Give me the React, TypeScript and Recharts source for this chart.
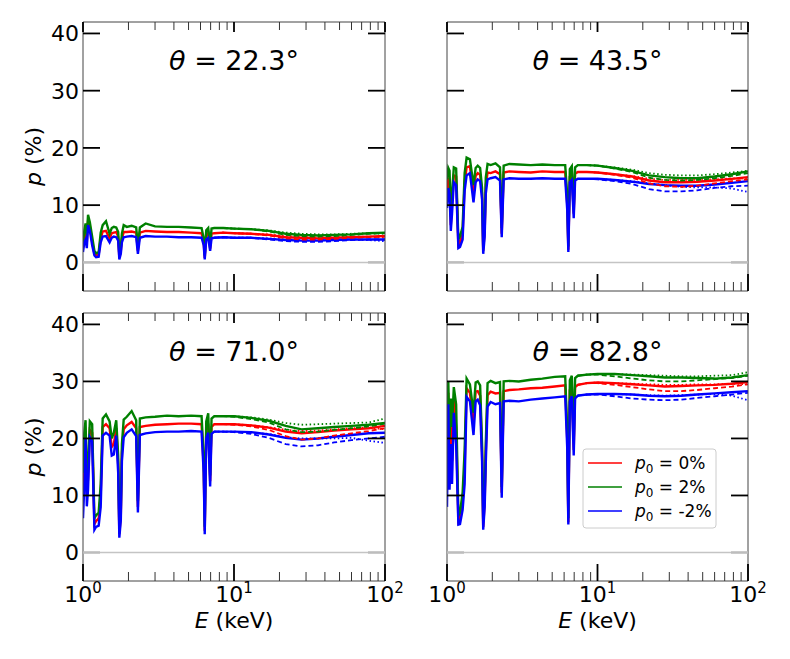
import React from 'react';
import { LineChart, Line, XAxis, YAxis, ReferenceLine } from 'recharts';

// energy grid (keV) for the full curves
const ENERGY = [
  1.0, 1.02, 1.04, 1.06, 1.08, 1.11, 1.15, 1.19, 1.22, 1.27, 1.31, 1.35, 1.42, 1.5, 1.55, 1.6, 1.66,
  1.71, 1.74, 1.78, 1.81, 1.86, 1.95, 2.1, 2.25, 2.31, 2.38, 2.6, 3.0, 3.6, 4.3, 5.2, 6.1, 6.3, 6.4,
  6.55, 6.75, 6.95, 7.1, 7.4, 8.5, 10, 13, 17, 22, 28, 36, 46, 60, 78, 100,
];
// coarser grid where the dotted / dashed variants split off
const HI_ENERGY = [7.4, 8.5, 10, 13, 17, 22, 28, 36, 46, 60, 78, 100];

const X_TICKS = [1, 2, 3, 4, 5, 6, 7, 8, 9, 10, 20, 30, 40, 50, 60, 70, 80, 90, 100];
const DECADES = [1, 10, 100];
const Y_TICKS = [0, 10, 20, 30, 40];

const TITLES = ['θ = 22.3°', 'θ = 43.5°', 'θ = 71.0°', 'θ = 82.8°'];
const LEGEND_LABELS = ['0%', '2%', '-2%'];

// theta = 22.3
const A_RED = [2.5, 4.5, 5.5, 3.5, 7.3, 6.3, 3.6, 1.5, 1.2, 1.4, 4.2, 5.4, 5.5, 4.2, 5.1, 5.2, 5.3, 4.5, 0.8, 2.0, 4.2, 5.3, 5.3, 5.4, 5.2, 2.0, 5.2, 5.5, 5.4, 5.3, 5.3, 5.2, 5.1, 3.5, 0.8, 4.8, 5.1, 2.4, 5.0, 5.1, 5.2, 5.1, 5.0, 4.8, 4.4, 4.3, 4.2, 4.3, 4.4, 4.5, 4.6];
const A_GREEN = [3.5, 5.5, 6.8, 4.5, 8.3, 7.0, 4.5, 2.0, 1.6, 1.8, 5.2, 6.5, 7.2, 5.0, 6.0, 6.2, 6.1, 5.3, 1.2, 2.6, 5.0, 6.5, 6.2, 6.4, 6.1, 2.6, 6.1, 6.8, 6.3, 6.2, 6.2, 6.1, 6.0, 4.2, 1.2, 5.6, 6.0, 3.0, 5.9, 6.0, 6.0, 5.9, 5.8, 5.5, 5.0, 4.8, 4.7, 4.8, 4.9, 5.1, 5.2];
const A_BLUE = [1.8, 3.5, 4.0, 2.5, 6.5, 5.5, 3.0, 1.2, 0.9, 1.0, 3.5, 4.5, 4.6, 3.5, 4.3, 4.5, 4.4, 3.8, 0.5, 1.5, 3.5, 4.4, 4.5, 4.6, 4.4, 1.5, 4.3, 4.6, 4.5, 4.5, 4.4, 4.4, 4.3, 3.0, 0.5, 4.0, 4.3, 2.0, 4.2, 4.3, 4.4, 4.3, 4.3, 4.1, 3.9, 3.8, 3.8, 3.9, 4.0, 4.0, 4.0];
const A_RED_DOT = [5.1, 5.2, 5.1, 5.0, 4.9, 4.6, 4.5, 4.4, 4.4, 4.5, 4.5, 4.4];
const A_RED_DASH = [5.1, 5.2, 5.1, 5.0, 4.7, 4.2, 4.0, 4.0, 4.1, 4.3, 4.4, 4.5];
const A_GREEN_DOT = [6.0, 6.0, 5.9, 5.8, 5.6, 5.2, 5.0, 4.9, 4.9, 5.0, 5.1, 5.0];
const A_GREEN_DASH = [6.0, 6.0, 5.9, 5.8, 5.4, 4.8, 4.6, 4.5, 4.6, 4.8, 5.0, 5.1];
const A_BLUE_DOT = [4.3, 4.4, 4.3, 4.3, 4.2, 4.0, 3.9, 3.9, 3.9, 4.0, 3.9, 3.7];
const A_BLUE_DASH = [4.3, 4.4, 4.3, 4.3, 4.0, 3.7, 3.6, 3.6, 3.7, 3.9, 4.0, 4.0];

// theta = 43.5
const B_RED = [12.0, 14.8, 14.0, 6.5, 10.0, 15.2, 15.0, 3.0, 3.4, 5.0, 14.0, 16.6, 16.8, 12.0, 15.1, 15.6, 15.3, 12.0, 2.0, 5.5, 13.5, 15.7, 15.6, 15.9, 15.4, 5.0, 15.7, 15.9, 15.8, 15.7, 15.9, 15.8, 15.8, 10.0, 2.2, 15.0, 15.6, 8.5, 15.5, 15.8, 15.8, 15.7, 15.4, 15.0, 14.3, 14.0, 14.0, 14.1, 14.3, 14.6, 14.9];
const B_GREEN = [14.5, 16.5, 16.0, 8.0, 12.0, 16.6, 16.4, 4.0, 4.5, 6.2, 15.6, 18.3, 18.0, 13.5, 16.5, 16.9, 16.5, 13.0, 2.6, 6.5, 14.8, 17.2, 17.0, 17.3, 16.6, 6.0, 16.9, 17.2, 17.1, 17.0, 17.1, 17.0, 17.0, 11.5, 2.8, 16.3, 16.8, 9.5, 16.6, 17.0, 17.0, 16.9, 16.5, 16.0, 15.2, 14.9, 14.7, 14.7, 15.0, 15.4, 15.9];
const B_BLUE = [9.5, 13.0, 12.0, 5.5, 8.5, 14.0, 13.5, 2.5, 2.7, 4.0, 12.5, 15.2, 15.6, 10.5, 14.0, 14.5, 14.2, 11.0, 1.5, 4.5, 12.0, 14.5, 14.7, 14.9, 14.3, 4.4, 14.5, 14.7, 14.6, 14.6, 14.7, 14.6, 14.6, 9.0, 1.8, 14.0, 14.4, 7.7, 14.3, 14.6, 14.6, 14.6, 14.4, 14.1, 13.7, 13.5, 13.4, 13.4, 13.6, 13.9, 14.2];
const B_RED_DOT = [15.8, 15.8, 15.7, 15.4, 15.1, 14.6, 14.4, 14.4, 14.4, 14.5, 14.7, 14.6];
const B_RED_DASH = [15.8, 15.8, 15.7, 15.3, 14.8, 13.8, 13.3, 13.2, 13.4, 13.8, 14.2, 14.5];
const B_GREEN_DOT = [17.0, 17.0, 16.9, 16.6, 16.2, 15.6, 15.3, 15.2, 15.2, 15.4, 15.7, 16.0];
const B_GREEN_DASH = [17.0, 17.0, 16.9, 16.4, 15.8, 14.8, 14.4, 14.3, 14.4, 14.7, 15.1, 15.6];
const B_BLUE_DOT = [14.6, 14.6, 14.6, 14.4, 14.2, 13.8, 13.5, 13.2, 13.1, 13.1, 12.9, 12.3];
const B_BLUE_DASH = [14.6, 14.6, 14.5, 14.2, 13.7, 12.8, 12.4, 12.4, 12.6, 13.0, 13.3, 13.4];

// theta = 71.0
const C_RED = [10.0, 17.0, 21.3, 10.0, 13.0, 21.5, 21.0, 5.0, 5.5, 6.0, 10.0, 22.0, 22.5, 21.8, 18.5, 19.0, 21.8, 15.5, 3.2, 6.5, 17.5, 21.6, 22.3, 22.9, 21.8, 8.0, 22.0, 22.2, 22.4, 22.5, 22.6, 22.6, 22.5, 15.0, 3.8, 21.5, 22.6, 12.5, 22.0, 22.5, 22.5, 22.5, 22.3, 21.9, 21.2, 20.9, 21.1, 21.4, 21.6, 21.8, 22.2];
const C_GREEN = [14.0, 21.0, 23.2, 12.0, 15.0, 23.0, 22.5, 6.0, 6.5, 7.0, 12.0, 23.5, 24.2, 23.0, 20.0, 21.0, 23.2, 17.0, 4.0, 7.5, 19.0, 23.3, 23.8, 24.8, 23.2, 9.0, 23.5, 23.7, 23.8, 24.0, 23.9, 24.0, 23.9, 16.5, 4.5, 23.0, 24.4, 13.5, 23.5, 23.9, 23.9, 23.9, 23.6, 23.1, 22.2, 21.6, 21.8, 22.0, 22.2, 22.4, 22.7];
const C_BLUE = [6.0, 11.6, 20.0, 8.1, 11.0, 20.2, 19.5, 4.0, 4.5, 4.7, 8.0, 20.5, 21.0, 20.5, 17.0, 17.2, 20.5, 14.0, 2.6, 5.6, 16.0, 20.2, 21.0, 21.6, 20.4, 7.0, 20.6, 20.9, 21.1, 21.2, 21.2, 21.3, 21.2, 14.0, 3.2, 20.0, 21.0, 11.6, 20.8, 21.2, 21.2, 21.2, 21.1, 20.7, 20.1, 19.8, 20.0, 20.3, 20.6, 20.9, 21.0];
const C_RED_DOT = [22.5, 22.5, 22.5, 22.3, 22.0, 21.5, 21.3, 21.4, 21.6, 21.8, 21.9, 21.6];
const C_RED_DASH = [22.5, 22.5, 22.4, 22.1, 21.5, 20.4, 19.8, 20.0, 20.5, 20.9, 21.3, 21.8];
const C_GREEN_DOT = [23.9, 23.9, 23.9, 23.7, 23.3, 22.7, 22.4, 22.5, 22.6, 22.7, 22.8, 23.5];
const C_GREEN_DASH = [23.9, 23.9, 23.8, 23.4, 22.8, 21.6, 21.1, 21.2, 21.5, 21.8, 22.1, 22.6];
const C_BLUE_DOT = [21.2, 21.2, 21.2, 21.0, 20.8, 20.2, 20.0, 20.0, 20.0, 20.1, 19.6, 19.2];
const C_BLUE_DASH = [21.2, 21.2, 21.1, 20.8, 20.1, 19.0, 18.6, 18.8, 19.3, 19.7, 20.0, 20.3];

// theta = 82.8
const D_RED = [18.0, 28.0, 15.0, 22.0, 16.0, 27.0, 22.0, 5.5, 6.0, 9.0, 15.0, 28.8, 28.0, 22.7, 28.2, 28.3, 27.5, 17.5, 4.5, 9.0, 17.5, 27.6, 28.2, 27.9, 28.0, 10.5, 28.3, 28.5, 28.6, 28.8, 28.9, 29.1, 29.3, 19.5, 5.3, 28.5, 29.3, 18.0, 29.0, 29.4, 29.7, 29.8, 29.7, 29.5, 29.3, 29.1, 29.2, 29.3, 29.4, 29.6, 29.9];
const D_GREEN = [24.0, 30.0, 20.0, 27.0, 22.0, 29.0, 26.0, 6.5, 7.0, 10.5, 18.0, 30.5, 29.5, 24.5, 29.8, 30.0, 29.3, 19.0, 5.5, 10.5, 19.0, 29.7, 30.1, 29.7, 29.9, 11.5, 30.0, 30.1, 30.0, 30.3, 30.5, 30.8, 30.9, 21.0, 6.0, 30.2, 31.0, 19.5, 30.6, 31.0, 31.2, 31.3, 31.3, 31.1, 30.9, 30.7, 30.7, 30.6, 30.5, 30.7, 31.1];
const D_BLUE = [8.0, 26.0, 11.0, 19.0, 12.0, 24.5, 19.0, 4.9, 5.0, 7.5, 12.0, 27.3, 26.5, 20.6, 26.5, 26.8, 25.8, 16.0, 4.0, 8.0, 15.7, 25.6, 26.4, 26.0, 26.2, 9.6, 26.5, 26.6, 26.5, 26.8, 27.0, 27.2, 27.4, 18.0, 4.9, 26.5, 27.4, 17.0, 27.0, 27.5, 27.7, 27.8, 27.8, 27.7, 27.5, 27.4, 27.5, 27.7, 27.9, 28.1, 28.3];
const D_RED_DOT = [29.4, 29.7, 29.8, 29.7, 29.6, 29.5, 29.4, 29.4, 29.5, 29.5, 29.6, 29.5];
const D_RED_DASH = [29.4, 29.7, 29.7, 29.4, 29.0, 28.6, 28.3, 28.3, 28.5, 28.8, 29.1, 29.5];
const D_GREEN_DOT = [31.0, 31.2, 31.3, 31.3, 31.2, 31.1, 31.0, 30.9, 30.9, 31.0, 31.1, 31.6];
const D_GREEN_DASH = [31.0, 31.2, 31.2, 30.9, 30.5, 30.2, 30.0, 30.0, 30.2, 30.4, 30.6, 31.0];
const D_BLUE_DOT = [27.5, 27.7, 27.8, 27.8, 27.7, 27.6, 27.5, 27.6, 27.7, 27.8, 27.5, 26.7];
const D_BLUE_DASH = [27.5, 27.7, 27.7, 27.4, 27.0, 26.8, 26.7, 26.8, 27.1, 27.4, 27.7, 28.0];

const RED = '#ff0000';
const GREEN = '#008000';
const BLUE = '#0000ff';
const FONT = '"DejaVu Sans", sans-serif';

const W = 790;
const H = 659;

type Box = { left: number; right: number; top: number; bottom: number };

const BOXES: Box[] = [
  { left: 83, right: 385, top: 22, bottom: 291 },
  { left: 447, right: 748, top: 22, bottom: 291 },
  { left: 83, right: 385, top: 313, bottom: 581 },
  { left: 447, right: 748, top: 313, bottom: 581 },
];

const SERIES = [
  { solid: [A_RED, A_GREEN, A_BLUE], dot: [A_RED_DOT, A_GREEN_DOT, A_BLUE_DOT], dash: [A_RED_DASH, A_GREEN_DASH, A_BLUE_DASH] },
  { solid: [B_RED, B_GREEN, B_BLUE], dot: [B_RED_DOT, B_GREEN_DOT, B_BLUE_DOT], dash: [B_RED_DASH, B_GREEN_DASH, B_BLUE_DASH] },
  { solid: [C_RED, C_GREEN, C_BLUE], dot: [C_RED_DOT, C_GREEN_DOT, C_BLUE_DOT], dash: [C_RED_DASH, C_GREEN_DASH, C_BLUE_DASH] },
  { solid: [D_RED, D_GREEN, D_BLUE], dot: [D_RED_DOT, D_GREEN_DOT, D_BLUE_DOT], dash: [D_RED_DASH, D_GREEN_DASH, D_BLUE_DASH] },
];

const COLORS = [RED, GREEN, BLUE];

const toRows = (xs: number[], cols: number[][]) =>
  xs.map((e, i) => ({ e, c0: cols[0][i], c1: cols[1][i], c2: cols[2][i] }));

const xTick = (b: Box, side: 'top' | 'bottom', label: boolean) => (props: any) => {
  const { x, payload } = props;
  const v = payload.value;
  const major = DECADES.includes(v);
  const len = side === 'bottom' ? (major ? 17 : 9) : major ? 10 : 8;
  const y0 = side === 'bottom' ? b.bottom : b.top;
  const y1 = side === 'bottom' ? y0 - len : y0 + len;
  return (
    <g>
      <line x1={x} x2={x} y1={y0} y2={y1} stroke={major ? '#000' : '#333'} strokeWidth={major ? 1.8 : 1} />
      {label && major && (
        <text x={x} y={b.bottom + 21} textAnchor="middle" fontSize={22} fontFamily={FONT} fill="#000">
          10
          <tspan dy={-9} fontSize={15}>
            {Math.round(Math.log10(v))}
          </tspan>
        </text>
      )}
    </g>
  );
};

const yTick = (b: Box, side: 'left' | 'right', label: boolean) => (props: any) => {
  const { y, payload } = props;
  const v = payload.value;
  const x0 = side === 'left' ? b.left : b.right;
  const x1 = side === 'left' ? x0 + 17 : x0 - 17;
  const zero = v === 0;
  return (
    <g>
      <line x1={x0} x2={x1} y1={y} y2={y} stroke={zero ? '#bdbdbd' : '#000'} strokeWidth={zero ? 2.5 : 1.8} />
      {label && (
        <text x={b.left - 4} y={y + 8} textAnchor="end" fontSize={22} fontFamily={FONT} fill="#000">
          {v}
        </text>
      )}
    </g>
  );
};

const Panel = ({ idx }: { idx: number }) => {
  const b = BOXES[idx];
  const s = SERIES[idx];
  const solidRows = toRows(ENERGY, s.solid);
  const dotRows = toRows(HI_ENERGY, s.dot);
  const dashRows = toRows(HI_ENERGY, s.dash);
  const isBottom = idx >= 2;
  const isLeft = idx % 2 === 0;
  const cx = (b.left + b.right) / 2;
  const cy = (b.top + b.bottom) / 2;
  const frame = { stroke: '#444', strokeWidth: 1 };
  return (
    <div style={{ position: 'absolute', left: 0, top: 0 }}>
      <LineChart
        width={W}
        height={H}
        margin={{ left: b.left - 1, right: W - b.right - 1, top: b.top - 1, bottom: H - b.bottom - 1 }}
      >
        <XAxis
          xAxisId="b"
          dataKey="e"
          type="number"
          scale="log"
          domain={[1, 100]}
          allowDataOverflow
          ticks={X_TICKS}
          interval={0}
          height={1}
          tickLine={false}
          axisLine={frame}
          tick={xTick(b, 'bottom', isBottom)}
        />
        <XAxis
          xAxisId="t"
          orientation="top"
          dataKey="e"
          type="number"
          scale="log"
          domain={[1, 100]}
          allowDataOverflow
          ticks={X_TICKS}
          interval={0}
          height={1}
          tickLine={false}
          axisLine={frame}
          tick={xTick(b, 'top', false)}
        />
        <YAxis
          yAxisId="l"
          type="number"
          domain={[-5, 42]}
          allowDataOverflow
          ticks={Y_TICKS}
          interval={0}
          width={1}
          tickLine={false}
          axisLine={frame}
          tick={yTick(b, 'left', isLeft)}
        />
        <YAxis
          yAxisId="r"
          orientation="right"
          type="number"
          domain={[-5, 42]}
          allowDataOverflow
          ticks={Y_TICKS}
          interval={0}
          width={1}
          tickLine={false}
          axisLine={frame}
          tick={yTick(b, 'right', false)}
        />
        <ReferenceLine xAxisId="b" yAxisId="l" y={0} stroke="#c4c4c4" strokeWidth={1.5} />
        {COLORS.map((c, k) => (
          <Line
            key={`s${k}`}
            xAxisId="b"
            yAxisId="l"
            data={solidRows}
            dataKey={`c${k}`}
            stroke={c}
            strokeWidth={2.4}
            dot={false}
            type="linear"
            isAnimationActive={false}
          />
        ))}
        {COLORS.map((c, k) => (
          <Line
            key={`d${k}`}
            xAxisId="b"
            yAxisId="l"
            data={dotRows}
            dataKey={`c${k}`}
            stroke={c}
            strokeWidth={1.8}
            strokeDasharray="1.5 2.5"
            dot={false}
            type="linear"
            isAnimationActive={false}
          />
        ))}
        {COLORS.map((c, k) => (
          <Line
            key={`h${k}`}
            xAxisId="b"
            yAxisId="l"
            data={dashRows}
            dataKey={`c${k}`}
            stroke={c}
            strokeWidth={1.8}
            strokeDasharray="5 3"
            dot={false}
            type="linear"
            isAnimationActive={false}
          />
        ))}
      </LineChart>
      <svg width={W} height={H} style={{ position: 'absolute', left: 0, top: 0, pointerEvents: 'none' }}>
        <text x={cx} y={b.top + 48} textAnchor="middle" fontSize={27} fontFamily={FONT} fill="#000">
          <tspan fontStyle="italic">θ</tspan>
          {TITLES[idx].slice(1)}
        </text>
        {isLeft && (
          <text
            x={41}
            y={cy}
            transform={`rotate(-90 41 ${cy})`}
            textAnchor="middle"
            fontSize={22}
            fontFamily={FONT}
            fill="#000"
          >
            <tspan fontStyle="italic">p</tspan> (%)
          </text>
        )}
        {isBottom && (
          <text x={cx} y={628} textAnchor="middle" fontSize={22} fontFamily={FONT} fill="#000">
            <tspan fontStyle="italic">E</tspan> (keV)
          </text>
        )}
      </svg>
    </div>
  );
};

const LegendBox = () => (
  <svg width={W} height={H} style={{ position: 'absolute', left: 0, top: 0, pointerEvents: 'none' }}>
    <rect x={583} y={449} width={133} height={79} rx={3} fill="rgba(255,255,255,0.85)" stroke="#cccccc" strokeWidth={1} />
    {LEGEND_LABELS.map((l, k) => {
      const y = 463 + k * 24;
      return (
        <g key={l}>
          <line x1={588} x2={622} y1={y} y2={y} stroke={COLORS[k]} strokeWidth={1.5} />
          <text x={635} y={y + 6} fontSize={17} fontFamily={FONT} fill="#000">
            <tspan fontStyle="italic">p</tspan>
            <tspan fontSize={12} dy={4}>0</tspan>
            <tspan dy={-4}>{` = ${l}`}</tspan>
          </text>
        </g>
      );
    })}
  </svg>
);

export default function App() {
  return (
    <div style={{ position: 'absolute', left: 0, top: 0, width: W, height: H, background: '#fff' }}>
      {[0, 1, 2, 3].map((i) => (
        <Panel key={i} idx={i} />
      ))}
      <LegendBox />
    </div>
  );
}
